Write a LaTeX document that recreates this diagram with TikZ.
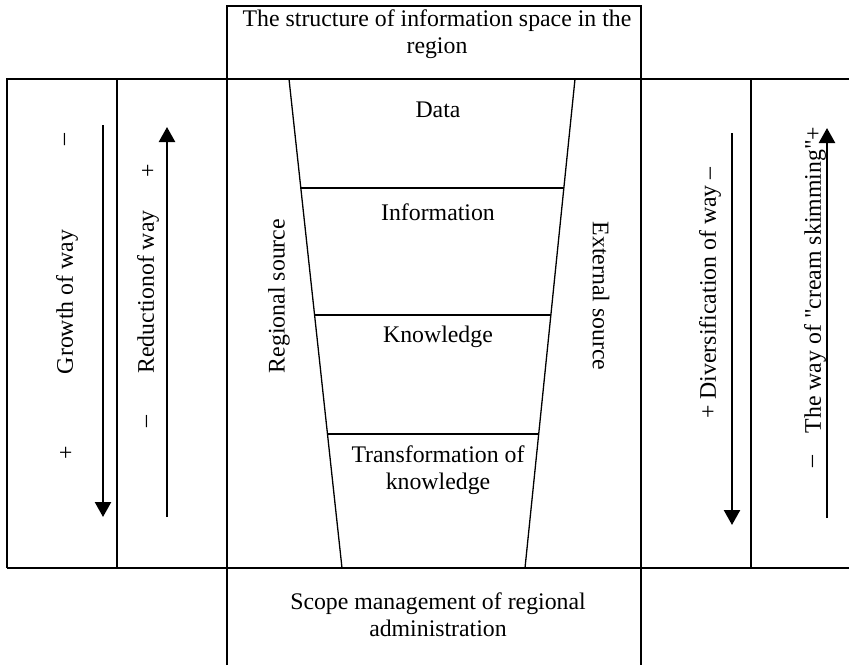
\documentclass[tikz,border=0pt]{standalone}
\usepackage{fontspec}
\setmainfont{Liberation Serif}[Ligatures=TeXOff]
\usepackage{tikz}
\usetikzlibrary{calc}
\usetikzlibrary{arrows.meta}

\begin{document}
\begin{tikzpicture}[x=1pt, y=-1pt, >={Triangle[length=15pt,width=16pt]},
    frame/.style={line width=1.3pt},
    way/.style={line width=2.4pt, ->},
    txt/.style={inner sep=0pt, align=center, font=\fontsize{23.8}{27}\selectfont}]
    \useasboundingbox (0,0) rectangle (849,665);
    % =========================
    % outer frame and columns
    \draw[frame] (227,665) -- (227,6) -- (641,6) -- (641,665);
    \draw[frame] (7,568) -- (7,79) -- (849,79);
    \draw[frame] (7,568) -- (849,568);
    \draw[frame] (117,79) -- (117,568);
    \draw[frame] (751,79) -- (751,568);

    % ===============================
    % the funnel
    \coordinate (lt) at (289,79);
    \coordinate (lb) at (342,568);
    \coordinate (rt) at (575,79);
    \coordinate (rb) at (525,568);
    \draw[frame] (lt) -- (lb);
    \draw[frame] (rt) -- (rb);
    \foreach \t in {0.2229, 0.4826, 0.726}
        \draw[frame] ($(lt)!\t!(lb)$) -- ($(rt)!\t!(rb)$);

    \node[txt] (data) at (438,110) {Data};
    \node[txt] (info) at (438,212) {Information};
    \node[txt] (know) at (438,337) {Knowledge};
    \node[txt] (trans) at (438,470) {Transformation of\\knowledge};
    \node[txt, rotate=90] (regsrc) at (279,296) {Regional source};
    \node[txt, rotate=-90] (extsrc) at (601,296) {External source};

    % ===============================
    % top and bottom boxes
    \node[txt] (struct) at (437,34) {The structure of information space in the\\region};
    \node[txt] (scope) at (438,615) {Scope management of regional\\administration};

    % ===============================
    % the ways
    \node[txt, rotate=90] (growth) at (67,302) {Growth of way};
    \node[txt, rotate=90] (gminus) at (67,140) {\textendash};
    \node[txt, rotate=90] (gplus) at (67,453) {+};
    \coordinate (g1) at (103,125);
    \coordinate (g2) at (103,517);
    \draw[way] (g1) -- (g2);

    \node[txt, rotate=90] (reduct) at (148,292) {Reductionof way};
    \node[txt, rotate=90] (rplus) at (149,171) {+};
    \node[txt, rotate=90] (rminus) at (149,422) {\textendash};
    \coordinate (r1) at (167,517);
    \coordinate (r2) at (167,127);
    \draw[way] (r1) -- (r2);

    \node[txt, rotate=90] (divers) at (710,293) {+ Diversification of way \textendash};
    \coordinate (d1) at (732,133);
    \coordinate (d2) at (732,525);
    \draw[way] (d1) -- (d2);

    \node[txt, rotate=90] (cream) at (815,280) {The way of "cream skimming"+};
    \node[txt, rotate=90] (cminus) at (815,462) {\textendash};
    \coordinate (c1) at (827,518);
    \coordinate (c2) at (827,128);
    \draw[way] (c1) -- (c2);
\end{tikzpicture}
\end{document}
